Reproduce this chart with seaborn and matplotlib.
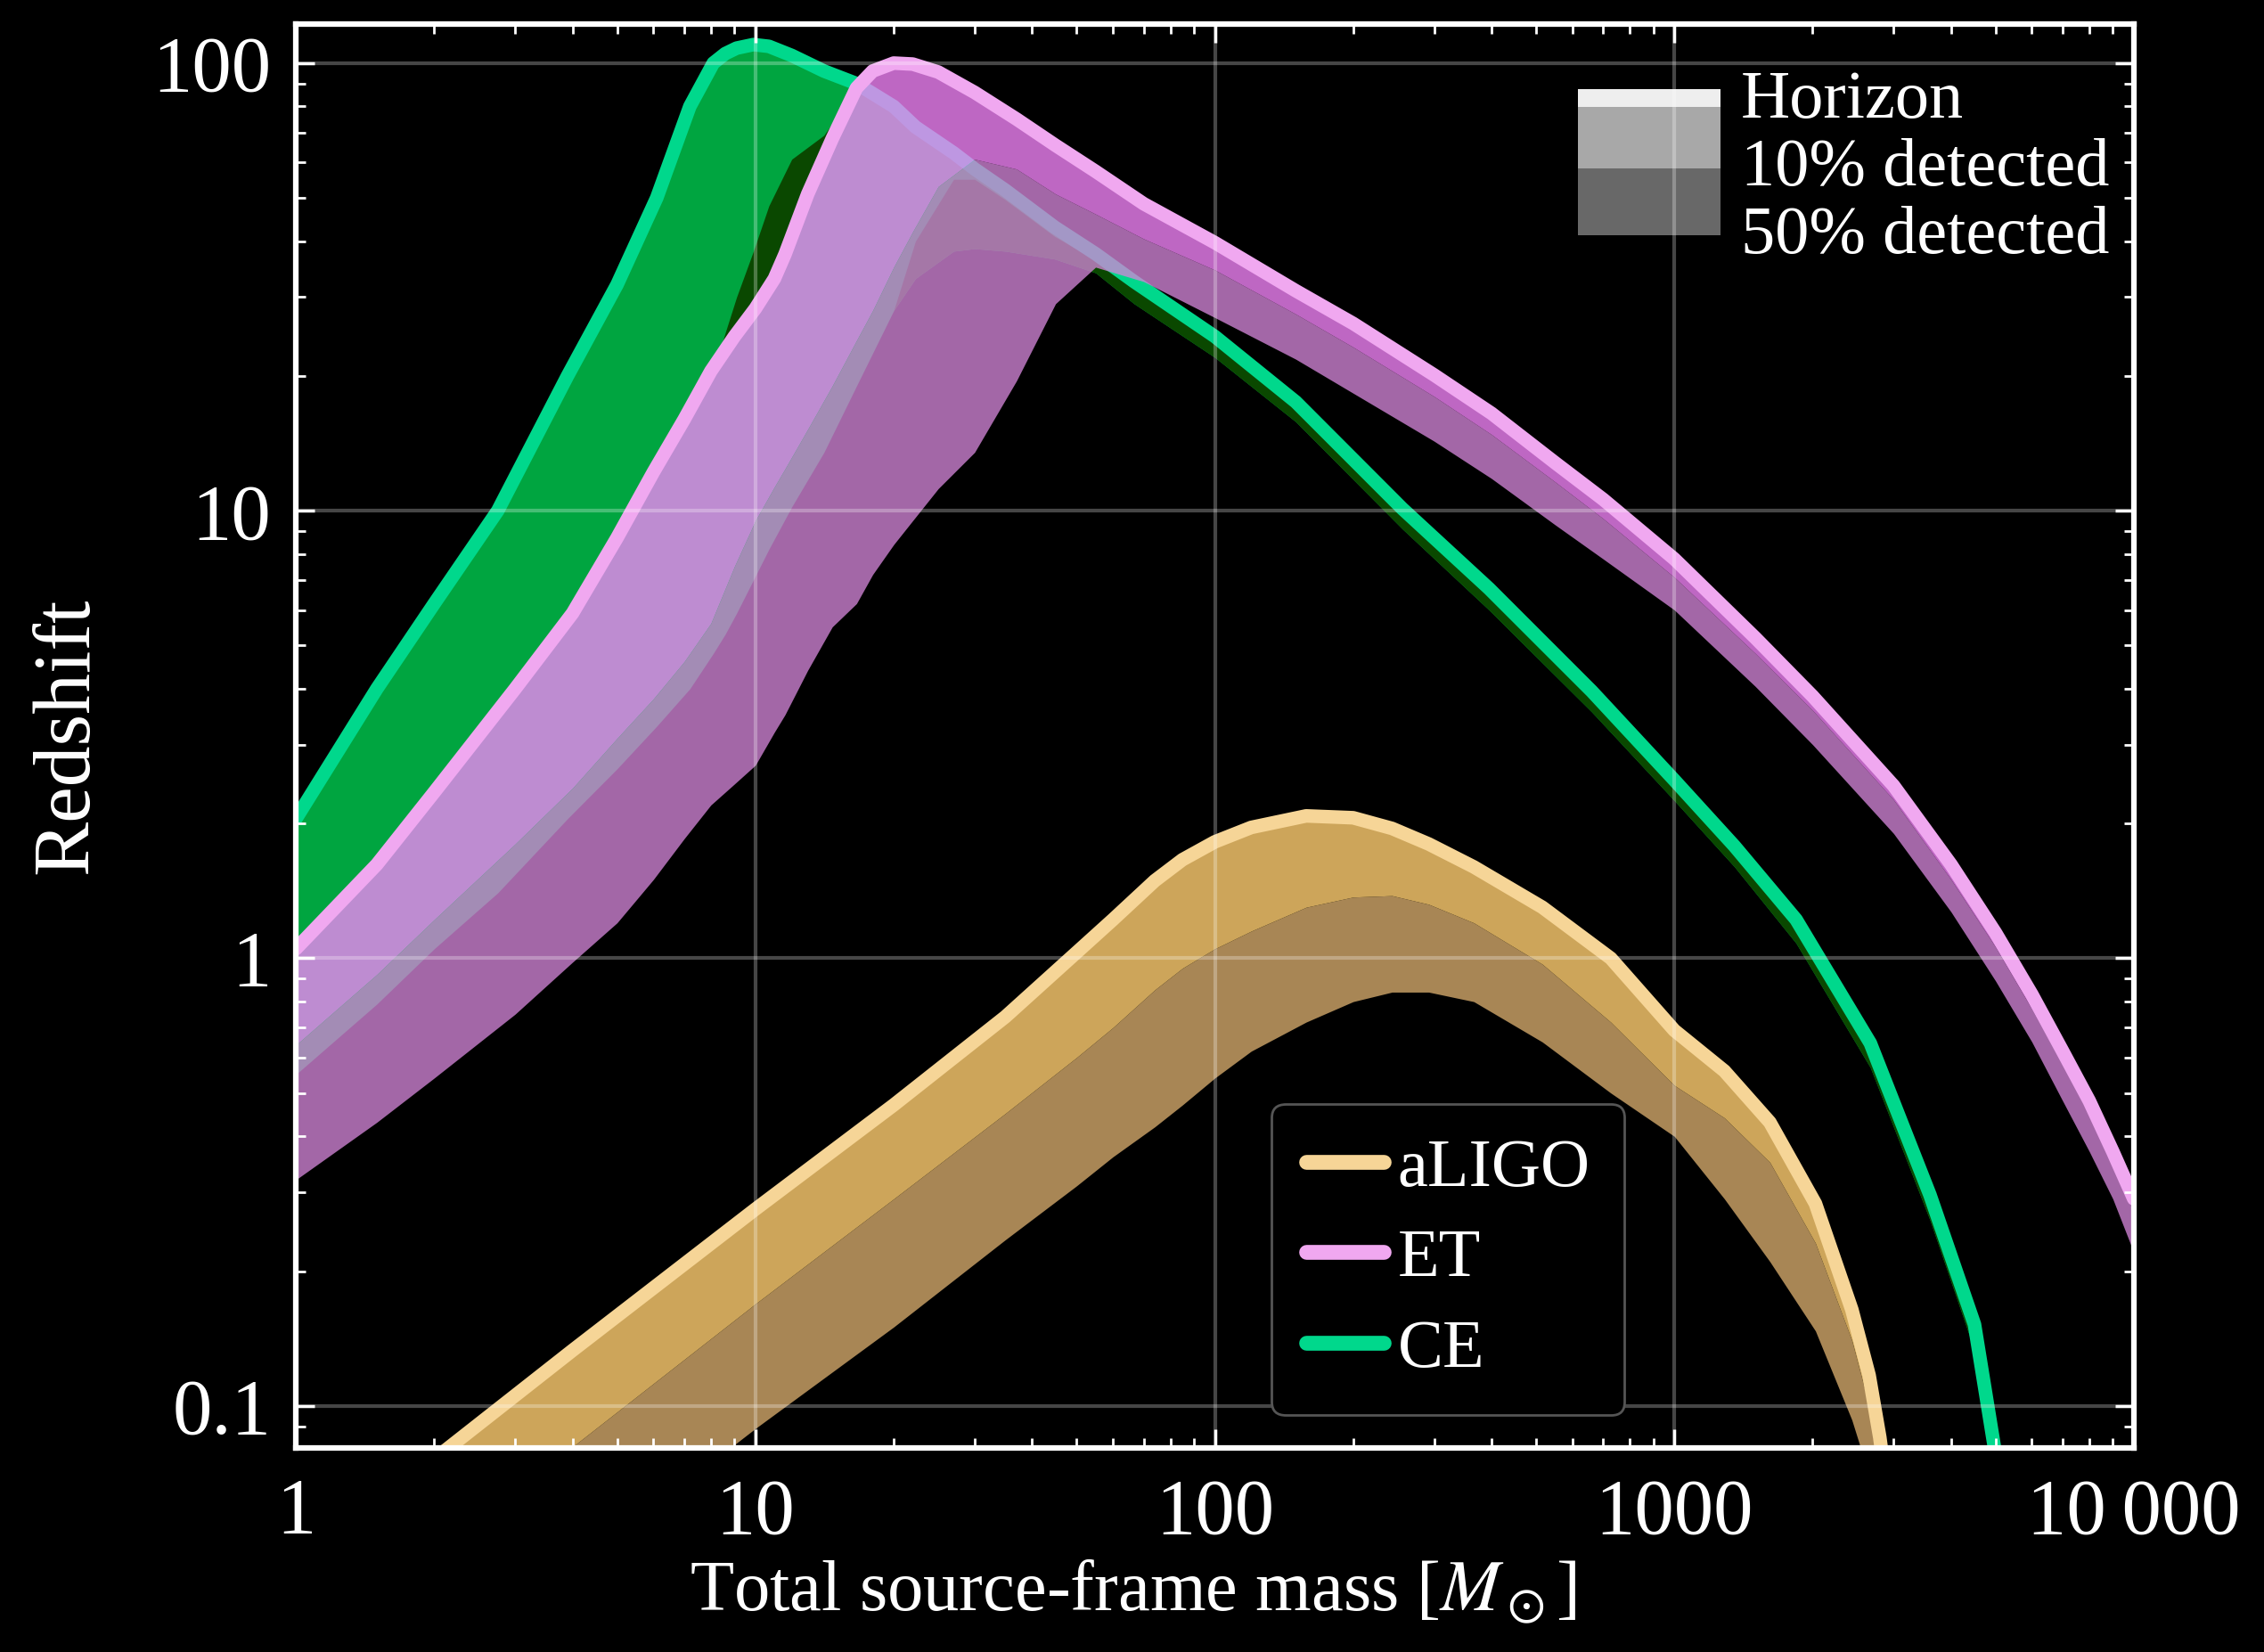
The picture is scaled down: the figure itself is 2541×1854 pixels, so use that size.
import matplotlib
matplotlib.use("Agg")
import matplotlib.pyplot as plt
import seaborn as sns
from matplotlib.lines import Line2D
from matplotlib.patches import Rectangle

# --- values (total mass in Msun, redshift) ---
aligo_mass = [1, 2, 4, 10, 20, 35, 50, 60, 74, 85, 100, 120, 158, 200, 243, 292, 366,
              516, 727, 1000, 1285, 1614, 2028, 2434, 2654, 2800, 3000]
aligo_horizon = [0.042, 0.076, 0.133, 0.275, 0.47, 0.74, 1.03, 1.22, 1.49, 1.66, 1.82, 1.96, 2.08,
                 2.06, 1.95, 1.8, 1.6, 1.3, 1.0, 0.69, 0.56, 0.43, 0.283, 0.164, 0.117, 0.085, 0.05]
aligo_10 = [0.027, 0.046, 0.081, 0.169, 0.29, 0.45, 0.6, 0.7, 0.85, 0.95, 1.05, 1.15, 1.3,
            1.37, 1.38, 1.32, 1.2, 0.97, 0.72, 0.52, 0.44, 0.35, 0.231, 0.14, 0.1, 0.075, 0.045]
aligo_50 = [0.0145, 0.025, 0.043, 0.089, 0.15, 0.235, 0.31, 0.36, 0.42, 0.47, 0.54, 0.62, 0.72,
            0.8, 0.84, 0.84, 0.8, 0.65, 0.5, 0.4, 0.29, 0.21, 0.147, 0.093, 0.07, 0.055, 0.035]

et_mass = [1, 1.5, 2, 3, 4, 5, 6, 7, 8, 9, 10, 11, 11.6, 13, 14.7, 16.6, 18, 20, 22, 25, 30, 37,
           45, 55, 70, 100, 150, 200, 300, 400, 550, 700, 1000, 1500, 2000, 3000, 4000, 5000,
           6000, 7000, 8000, 9000, 10000]
et_horizon = [1.05, 1.62, 2.35, 4.0, 5.9, 8.7, 12.2, 16, 20.5, 24.5, 28.3, 33, 37.4, 51, 67.8, 88,
              96, 100, 99.5, 95.5, 86, 75, 65.5, 57.3, 48.5, 39.7, 31, 26.2, 20.1, 16.5, 12.8,
              10.6, 7.8, 5.2, 3.85, 2.43, 1.62, 1.14, 0.83, 0.62, 0.48, 0.37, 0.29]
et_10 = [0.64, 0.92, 1.22, 1.8, 2.4, 3.1, 3.8, 4.6, 5.6, 7.5, 9.5, 11.3, 12.4, 15.2, 19, 24, 28,
         35, 42, 53, 61, 58, 51, 46, 40.5, 34.5, 27.5, 23.2, 18, 14.8, 11.6, 9.6, 7.1, 4.8, 3.58,
         2.26, 1.5, 1.06, 0.77, 0.58, 0.45, 0.345, 0.27]
et_50 = [0.32, 0.43, 0.54, 0.75, 0.98, 1.2, 1.5, 1.85, 2.2, 2.45, 2.7, 3.2, 3.5, 4.4, 5.5, 6.2,
         7.2, 8.4, 9.5, 11.2, 13.5, 19.5, 29, 35, 32.5, 27, 21.8, 18.3, 14.3, 11.8, 9.3, 7.8, 6.0,
         4.05, 3.0, 1.9, 1.27, 0.89, 0.65, 0.48, 0.37, 0.29, 0.22]

ce_mass = [1, 1.5, 2, 2.75, 3.9, 5, 6.1, 7.2, 8.1, 8.6, 9.1, 9.9, 10.7, 12, 14.1, 16.6, 20, 22.3,
           27, 30, 35, 44.8, 55, 66.7, 100, 150, 256, 395, 661, 1000, 1352, 1841, 2670, 3600,
           4500, 5000, 5300]
ce_horizon = [2.05, 4.0, 6.2, 10, 20, 32, 50, 80, 100, 105, 108, 110, 109, 104, 96, 90, 80, 72, 63,
              58, 52, 43, 37.5, 32.5, 24.5, 17.5, 10.1, 6.7, 3.95, 2.5, 1.78, 1.22, 0.646, 0.296,
              0.152, 0.078, 0.05]
# lower edge of the whole CE band
ce_low = [0.55, 0.79, 1.05, 1.4, 2.05, 2.65, 3.3, 4.0, 4.8, 5.3, 5.9, 7.0, 8.2, 10.2, 13.5, 19, 28,
          33, 38, 38.5, 38, 36.5, 34, 29, 22, 15.8, 9.1, 6.0, 3.55, 2.25, 1.6, 1.08, 0.57, 0.26,
          0.133, 0.068, 0.044]
# darker CE region (top and bottom edge as seen)
ce_dark_top = [0.55, 0.79, 1.05, 1.4, 2.05, 2.65, 3.3, 4.0, 20.5, 25, 30, 38, 48, 61, 69, 88, 28,
               40, 55, 55, 49.5, 41, 36.3, 31.5, 23.8, 17, 9.8, 6.5, 3.83, 2.42, 1.72, 1.18,
               0.625, 0.287, 0.147, 0.075, 0.048]
ce_dark_low = [0.55, 0.79, 1.05, 1.4, 2.05, 2.65, 3.3, 4.0, 20.5, 22.5, 24.3, 27.3, 31, 40, 60, 88,
               28, 33, 38, 38.5, 38, 36.5, 34, 29, 22, 15.8, 9.1, 6.0, 3.55, 2.25, 1.6, 1.08,
               0.57, 0.26, 0.133, 0.068, 0.044]

x_ticks = [1, 10, 100, 1000, 10000]
x_tick_labels = ["1", "10", "100", "1000", "10\u2009000"]
y_ticks = [0.1, 1, 10, 100]
y_tick_labels = ["0.1", "1", "10", "100"]

detector_names = ["aLIGO", "ET", "CE"]
line_colors = ["#f6d597", "#f0a8f0", "#00d88c"]
key_labels = ["Horizon", "10% detected", "50% detected"]
key_colors = ["#eeeeee", "#a8a8a8", "#686868"]

sns.set_theme(style="dark")
plt.rcParams["font.family"] = ["Liberation Serif", "DejaVu Serif"]
plt.rcParams["mathtext.fontset"] = "stix"
plt.rcParams["text.color"] = "white"

fig = plt.figure(figsize=(25.41, 18.54), dpi=100, facecolor="black")
ax = fig.add_axes([0.1307, 0.1235, 0.8118, 0.8617], facecolor="black")
ax.set_xscale("log")
ax.set_yscale("log")

LW = 11


def horizon_line(mass, z, color, order):
    sns.lineplot(x=mass, y=z, ax=ax, color=color, lw=LW, sort=False,
                 estimator=None, zorder=order)


# CE underneath
ax.fill_between(ce_mass, ce_low, ce_horizon, color="#00a540", lw=0, zorder=1.0)
ax.fill_between(ce_mass, ce_dark_low, ce_dark_top, color="#0a4800", lw=0, zorder=1.01)
horizon_line(ce_mass, ce_horizon, line_colors[2], 1.05)

# ET, semi-transparent on top of CE
ax.fill_between(et_mass, et_50, et_10, color="#d285d7", alpha=0.78, lw=0, zorder=1.2)
ax.fill_between(et_mass, et_10, et_horizon, color="#f585fb", alpha=0.78, lw=0, zorder=1.2)
horizon_line(et_mass, et_horizon, line_colors[1], 1.25)

# aLIGO
ax.fill_between(aligo_mass, aligo_50, aligo_10, color="#a88655", lw=0, zorder=1.4)
ax.fill_between(aligo_mass, aligo_10, aligo_horizon, color="#cda55a", lw=0, zorder=1.4)
horizon_line(aligo_mass, aligo_horizon, line_colors[0], 1.45)

ax.set_xlim(1, 10000)
ax.set_ylim(0.0805, 122)
ax.set_xticks(x_ticks, x_tick_labels)
ax.set_yticks(y_ticks, y_tick_labels)

ax.set_axisbelow(False)
ax.grid(True, which="major", color="white", alpha=0.28, lw=3)
ax.grid(False, which="minor")
for s in ax.spines.values():
    s.set_color("white")
    s.set_linewidth(4.5)
ax.tick_params(which="both", direction="in", colors="white", top=True, right=True,
               bottom=True, left=True)
ax.tick_params(which="major", length=15, width=2.5, labelsize=64)
ax.tick_params(which="minor", length=8, width=2)
ax.tick_params(axis="x", which="major", pad=24)
ax.tick_params(axis="y", which="major", pad=20)

ax.set_xlabel("Total source-frame mass [$M_\\odot$]", fontsize=58, color="white")
ax.set_ylabel("Redshift", fontsize=66, color="white")
ax.xaxis.set_label_coords(0.4556, -0.077)
ax.yaxis.set_label_coords(-0.104, 0.5)

# shading key (top right)
key_y = [(0.9420, 0.0124), (0.8986, 0.0434), (0.852, 0.0466)]
for (y0, h), c in zip(key_y, key_colors):
    ax.add_patch(Rectangle((0.6976, y0), 0.0777, h, transform=ax.transAxes,
                           color=c, lw=0, zorder=1.6))
for yt, lab in zip([0.9463, 0.8986, 0.851], key_labels):
    ax.text(0.7863, yt, lab, transform=ax.transAxes, va="center", ha="left",
            fontsize=55, color="white", zorder=6)

handles = [Line2D([], [], color=c, lw=12) for c in line_colors]
leg = ax.legend(handles, detector_names, loc="lower left", bbox_to_anchor=(0.531, 0.0233),
                borderaxespad=0, fontsize=55, frameon=True, facecolor="black",
                edgecolor="#555555", framealpha=1, handlelength=1.15, handletextpad=0.2,
                labelspacing=0.42, borderpad=0.5, labelcolor="white")
leg.get_frame().set_linewidth(2)

fig.savefig("out.png", dpi=100, facecolor="black")
